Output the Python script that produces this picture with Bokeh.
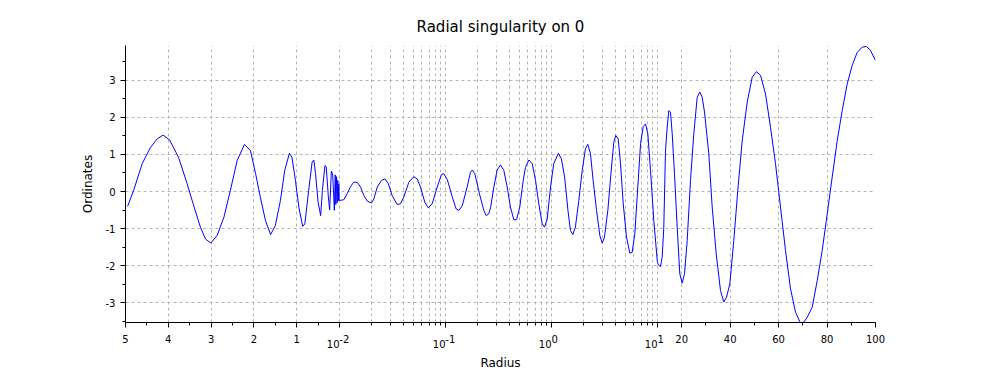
import math
from bokeh.plotting import figure
from bokeh.models import Range1d, FixedTicker, CustomJSTickFormatter, LinearAxis
from bokeh.embed import file_html
from bokeh.resources import INLINE

# ---------------- data ----------------
title = "Radial singularity on 0"
x_label = "Radius"
y_label = "Ordinates"

# segment 1: linear, reversed (r from 5 down to 0)
seg1_r = [4.95, 4.81, 4.61, 4.42, 4.26, 4.12, 3.97, 3.76, 3.56, 3.42, 3.25, 3.13, 3.01,
          2.86, 2.70, 2.55, 2.39, 2.22, 2.08, 1.96, 1.85, 1.73, 1.61, 1.50, 1.38, 1.28,
          1.17, 1.11, 1.03, 0.95, 0.86, 0.81, 0.72, 0.64, 0.60, 0.56, 0.50, 0.44, 0.40,
          0.34, 0.31, 0.26, 0.23, 0.19, 0.16, 0.12, 0.10, 0.086, 0.070, 0.054, 0.040,
          0.028, 0.016, 0.007, 0.0]
seg1_y = [-0.40, 0.03, 0.75, 1.18, 1.42, 1.52, 1.39, 0.92, 0.21, -0.33, -0.96, -1.28, -1.39,
          -1.19, -0.69, 0.03, 0.84, 1.27, 1.10, 0.48, -0.15, -0.78, -1.16, -0.92, -0.24, 0.57,
          1.03, 0.92, 0.30, -0.42, -0.94, -0.87, 0.03, 0.79, 0.85, 0.48, -0.29, -0.65, 0.03,
          0.70, 0.67, -0.15, -0.50, 0.55, 0.48, -0.51, 0.45, -0.35, 0.40, -0.30, 0.30,
          -0.25, 0.20, -0.20, -0.24]

# segment 2: logarithmic, 1e-2 .. 1e1
seg2_r = [0.0102, 0.0110, 0.0118, 0.0127, 0.0136, 0.0147, 0.0158, 0.0170, 0.0183, 0.0200,
          0.0211, 0.0227, 0.0249, 0.0268, 0.0288, 0.0314, 0.0350, 0.0376, 0.0404, 0.0451,
          0.0502, 0.0541, 0.0581, 0.0638, 0.0687, 0.0749, 0.0835, 0.0917, 0.0964, 0.104,
          0.116, 0.126, 0.134, 0.144, 0.160, 0.172, 0.179, 0.189, 0.209, 0.230,
          0.242, 0.256, 0.266, 0.286, 0.307, 0.330, 0.355, 0.382, 0.410, 0.441,
          0.468, 0.502, 0.541, 0.568, 0.611, 0.658, 0.707, 0.759, 0.817, 0.859,
          0.911, 0.979, 1.05, 1.16, 1.24, 1.33, 1.43, 1.51, 1.59, 1.68,
          1.81, 1.95, 2.09, 2.20, 2.33, 2.47, 2.66, 2.86, 3.01, 3.16,
          3.40, 3.66, 3.87, 4.04, 4.26, 4.48, 4.75, 5.10, 5.48, 5.77,
          6.11, 6.52, 6.92, 7.33, 7.71, 8.10, 8.59, 9.23, 9.94]
seg2_y = [-0.24, -0.22, -0.06, 0.13, 0.25, 0.25, 0.12, -0.11, -0.26, -0.31,
          -0.20, 0.12, 0.30, 0.34, 0.22, -0.11, -0.35, -0.33, -0.15, 0.25,
          0.40, 0.34, 0.12, -0.29, -0.44, -0.33, 0.12, 0.46, 0.48, 0.32,
          -0.15, -0.47, -0.51, -0.38, 0.12, 0.52, 0.58, 0.48, -0.06, -0.51,
          -0.65, -0.60, -0.44, 0.12, 0.58, 0.72, 0.57, 0.12, -0.42, -0.76,
          -0.76, -0.42, 0.30, 0.65, 0.85, 0.75, 0.30, -0.33, -0.87, -0.96,
          -0.74, 0.12, 0.75, 1.03, 0.88, 0.39, -0.51, -1.05, -1.16, -0.96,
          -0.24, 0.57, 1.15, 1.27, 1.02, 0.30, -0.51, -1.19, -1.39, -1.23,
          -0.51, 0.57, 1.33, 1.51, 1.42, 0.75, -0.33, -1.23, -1.66, -1.64,
          -1.14, 0.12, 1.29, 1.75, 1.82, 1.56, 0.57, -0.78, -1.86]

# segment 3: linear, 10 .. 100
seg3_r = [10.0, 10.54, 11.24, 11.94, 12.60, 13.30, 14.00, 14.67, 15.37, 16.07,
          17.02, 18.13, 19.21, 20.20, 21.15, 22.26, 23.62, 24.99, 26.39, 27.46,
          28.46, 29.41, 31.18, 32.58, 34.24, 36.01, 37.37, 38.49, 39.85, 41.50,
          43.15, 44.97, 47.04, 49.10, 50.87, 52.53, 54.59, 56.66, 58.72, 60.78,
          62.85, 64.91, 66.98, 69.04, 70.40, 71.80, 73.87, 75.94, 78.00, 80.07,
          82.13, 84.19, 86.26, 88.32, 90.39, 92.45, 94.51, 96.28, 97.94, 100.0]
seg3_y = [-1.92, -1.99, -2.02, -1.77, -0.96, 1.10, 1.73, 2.18, 2.14, 1.56,
          0.48, -0.96, -2.22, -2.47, -2.22, -1.32, 0.30, 1.56, 2.54, 2.68,
          2.54, 2.14, 1.02, -0.42, -1.68, -2.67, -2.98, -2.85, -2.49, -1.32,
          0.03, 1.37, 2.41, 3.08, 3.23, 3.13, 2.63, 1.73, 0.75, -0.42,
          -1.59, -2.62, -3.25, -3.55, -3.52, -3.39, -3.12, -2.40, -1.59, -0.60,
          0.39, 1.37, 2.18, 2.90, 3.40, 3.75, 3.89, 3.91, 3.80, 3.53]

# tick values / labels
seg1_major = [5, 4, 3, 2, 1]
seg1_major_labels = ["5", "4", "3", "2", "1"]
seg1_minor = [4.5, 3.5, 2.5, 1.5, 0.5]
seg1_grid = [4, 3, 2, 1, 0]
log_major = [0.01, 0.1, 1.0, 10.0]
log_major_base = ["10", "10", "10", "10"]
log_major_exp = ["-2", "-1", "0", "1"]
log_minor_mult = [2, 3, 4, 5, 6, 7, 8, 9]
log_decades = [0.01, 0.1, 1.0]
seg3_major = [20, 40, 60, 80, 100]
seg3_major_labels = ["20", "40", "60", "80", "100"]
seg3_minor = [30, 50, 70, 90]
seg3_grid = [20, 40, 60, 80]
y_ticks = [-3, -2, -1, 0, 1, 2, 3]
y_minor = [-3.5, -2.5, -1.5, -0.5, 0.5, 1.5, 2.5, 3.5]

# ---------------- piecewise axis (linear reversed | log | linear) ----------------
SEG1_W, DEC_W, SEG3_W = 214.0, 106.0, 218.0

def pos1(r):
    return (5.0 - r) * SEG1_W / 5.0

def pos2(r):
    return SEG1_W + (math.log10(r) + 2.0) * DEC_W

def pos3(r):
    return SEG1_W + 3 * DEC_W + (r - 10.0) * SEG3_W / 90.0

X_MAX = SEG1_W + 3 * DEC_W + SEG3_W

xs = [pos1(r) for r in seg1_r] + [pos2(r) for r in seg2_r] + [pos3(r) for r in seg3_r]
ys = seg1_y + seg2_y + seg3_y

NB = "\u00a0"
# exponent: shifted right of the tick; base "10": shifted left of the tick
exp_lab = [NB * (3 if len(e) > 1 else 2) + e for e in log_major_exp]
base_lab = [b + NB * 4 for b in log_major_base]

major_pos = [pos1(v) for v in seg1_major] + [pos2(v) for v in log_major] + [pos3(v) for v in seg3_major]
major_lab = seg1_major_labels + exp_lab + seg3_major_labels
log_pos = [pos2(v) for v in log_major]
log_minor = [m * d for d in log_decades for m in log_minor_mult]
minor_pos = [pos1(v) for v in seg1_minor] + [pos2(v) for v in log_minor] + [pos3(v) for v in seg3_minor]
grid_pos = [pos1(v) for v in seg1_grid] + [pos2(v) for v in log_minor + log_major[1:]] + [pos3(v) for v in seg3_grid]

FONT = "DejaVu Sans"
LOOKUP = """
for (let i = 0; i < pos.length; i++) {
  if (Math.abs(pos[i] - tick) < 1e-6) return lab[i];
}
return "";
"""

p = figure(frame_width=750, frame_height=277,
           min_border_left=125, min_border_right=125,
           min_border_top=45, min_border_bottom=48,
           x_range=Range1d(0, X_MAX), y_range=Range1d(-3.53, 3.935),
           output_backend="svg", toolbar_location=None,
           background_fill_color="white", border_fill_color="white")
p.outline_line_color = None

p.title.text = title
p.title.align = "center"
p.title.text_font = FONT
p.title.text_font_size = "15px"
p.title.text_font_style = "normal"
p.title.text_color = "black"
p.title.standoff = 19

p.line(xs, ys, line_color="#0000ff", line_width=1)

# main x axis
xa = p.xaxis[0]
xa.ticker = FixedTicker(ticks=major_pos, minor_ticks=minor_pos)
xa.formatter = CustomJSTickFormatter(args=dict(pos=major_pos, lab=major_lab), code=LOOKUP)
xa.major_label_standoff = 6

ya = p.yaxis[0]
ya.ticker = FixedTicker(ticks=y_ticks, minor_ticks=y_minor)
ya.formatter = CustomJSTickFormatter(code="return tick.toFixed(0);")
ya.axis_label = y_label
ya.axis_label_standoff = 8
ya.major_label_standoff = 5

# second, line-less axis carrying the lowered "10" of the decade labels
xb = LinearAxis(ticker=FixedTicker(ticks=log_pos, minor_ticks=[]),
                formatter=CustomJSTickFormatter(args=dict(pos=log_pos, lab=base_lab), code=LOOKUP))
xb.axis_line_color = None
xb.major_tick_line_color = None
xb.minor_tick_line_color = None
xb.major_tick_in = 0
xb.major_tick_out = 0
xb.minor_tick_in = 0
xb.minor_tick_out = 0
xb.major_label_standoff = -9
xb.axis_label = x_label
xb.axis_label_standoff = 3
p.add_layout(xb, "below")

for ax in (xa, ya):
    ax.axis_line_color = "black"
    ax.major_tick_line_color = "black"
    ax.minor_tick_line_color = "black"
    ax.major_tick_in = 0
    ax.major_tick_out = 5
    ax.minor_tick_in = 0
    ax.minor_tick_out = 3

for ax in (xa, xb, ya):
    ax.major_label_text_font = FONT
    ax.major_label_text_font_size = "10px"
    ax.major_label_text_color = "black"
    ax.axis_label_text_font = FONT
    ax.axis_label_text_font_size = "12px"
    ax.axis_label_text_font_style = "normal"
    ax.axis_label_text_color = "black"

# grids
p.xgrid.ticker = FixedTicker(ticks=grid_pos)
p.ygrid.ticker = FixedTicker(ticks=y_ticks)
for g in (p.xgrid, p.ygrid):
    g.grid_line_color = "#b4b4b4"
    g.grid_line_dash = "3 3"
    g.grid_line_width = 1

open("out.html", "w").write(file_html(p, INLINE))
